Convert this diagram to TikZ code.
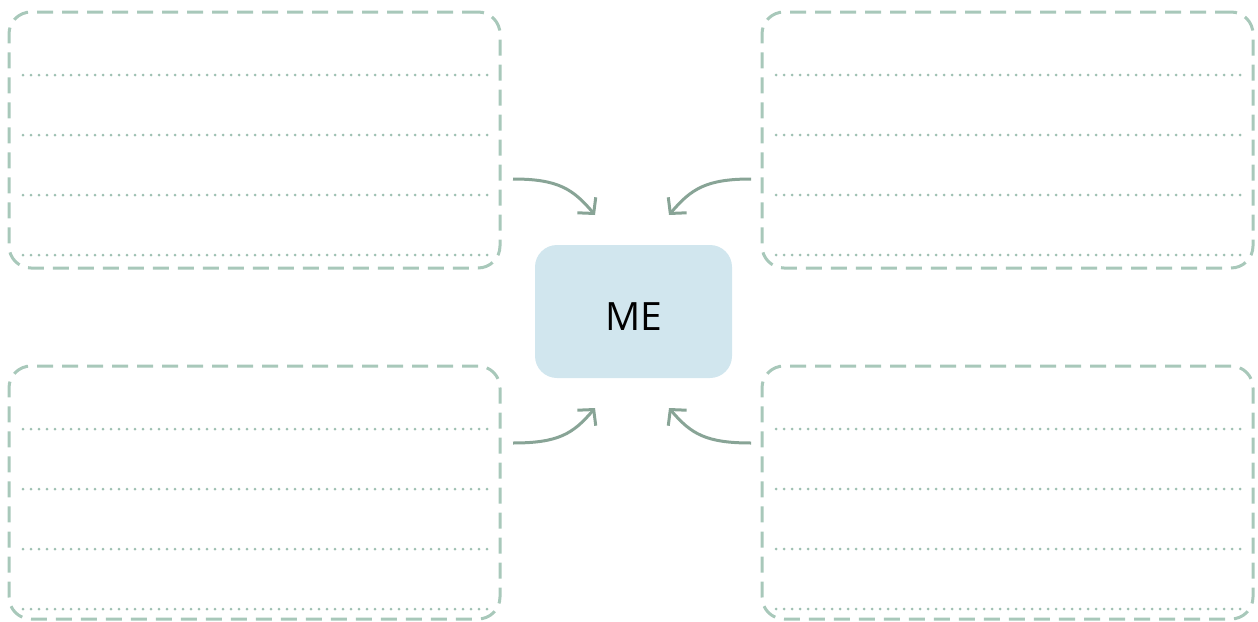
\documentclass[tikz,border=0pt]{standalone}
\usepackage{fontspec}
\usetikzlibrary{arrows.meta}
\newfontfamily\mefont{Open Sans}
\definecolor{boxgreen}{HTML}{A8C8BA}
\definecolor{dotgreen}{HTML}{9EC0B2}
\definecolor{arrowgreen}{HTML}{88A496}
\definecolor{meblue}{HTML}{D1E6EE}
\tikzset{
  notebox/.style={draw=boxgreen, line width=3pt, dash pattern=on 16pt off 9pt,
    rounded corners=22pt, minimum width=491pt, inner sep=0pt, outer sep=0pt},
  ruleline/.style={draw=dotgreen, line width=3pt, dash pattern=on 0pt off 8pt, line cap=round},
  pointer/.style={draw=arrowgreen, line width=3pt, -{Straight Barb[length=11pt,width=24pt]}},
  mebox/.style={fill=meblue, rounded corners=22pt, minimum width=197pt, minimum height=133pt,
    inner sep=0pt, text height=37pt, text depth=0pt, font=\mefont\fontsize{39}{46}\selectfont}
}

\begin{document}
\begin{tikzpicture}[x=1pt,y=-1pt]
				\useasboundingbox (0,0) rectangle (1258,621);
				
				%the four note boxes
				\node[notebox, minimum height=256pt] (tl) at (254.5,140) {};
				\node[notebox, minimum height=256pt] (tr) at (1007.5,140) {};
				\node[notebox, minimum height=253pt] (bl) at (254.5,492.5) {};
				\node[notebox, minimum height=253pt] (br) at (1007.5,492.5) {};
				
				%writing lines inside the boxes
				\foreach \b in {tl,tr,bl,br}
				  \foreach \d in {63,123,183,243}
				    \draw[ruleline] ([shift={(14,\d)}]\b.north west) -- ([shift={(-13,\d)}]\b.north east);
				
				%centre box
				\node[mebox] (me) at (633.5,311.5) {ME};
				
				%arrow ends
				\coordinate (tlfrom) at (513,179);
				\coordinate (tlto) at (595,215);
				\coordinate (trfrom) at (751,179);
				\coordinate (trto) at (669,215);
				\coordinate (blfrom) at (513,443);
				\coordinate (blto) at (595,408);
				\coordinate (brfrom) at (751,443);
				\coordinate (brto) at (669,408);
				
				\draw[pointer] (tlfrom) .. controls +(45,0) and +(-22,-26) .. (tlto);
				\draw[pointer] (trfrom) .. controls +(-45,0) and +(22,-26) .. (trto);
				\draw[pointer] (blfrom) .. controls +(45,0) and +(-22,26) .. (blto);
				\draw[pointer] (brfrom) .. controls +(-45,0) and +(22,26) .. (brto);
			\end{tikzpicture}
\end{document}
